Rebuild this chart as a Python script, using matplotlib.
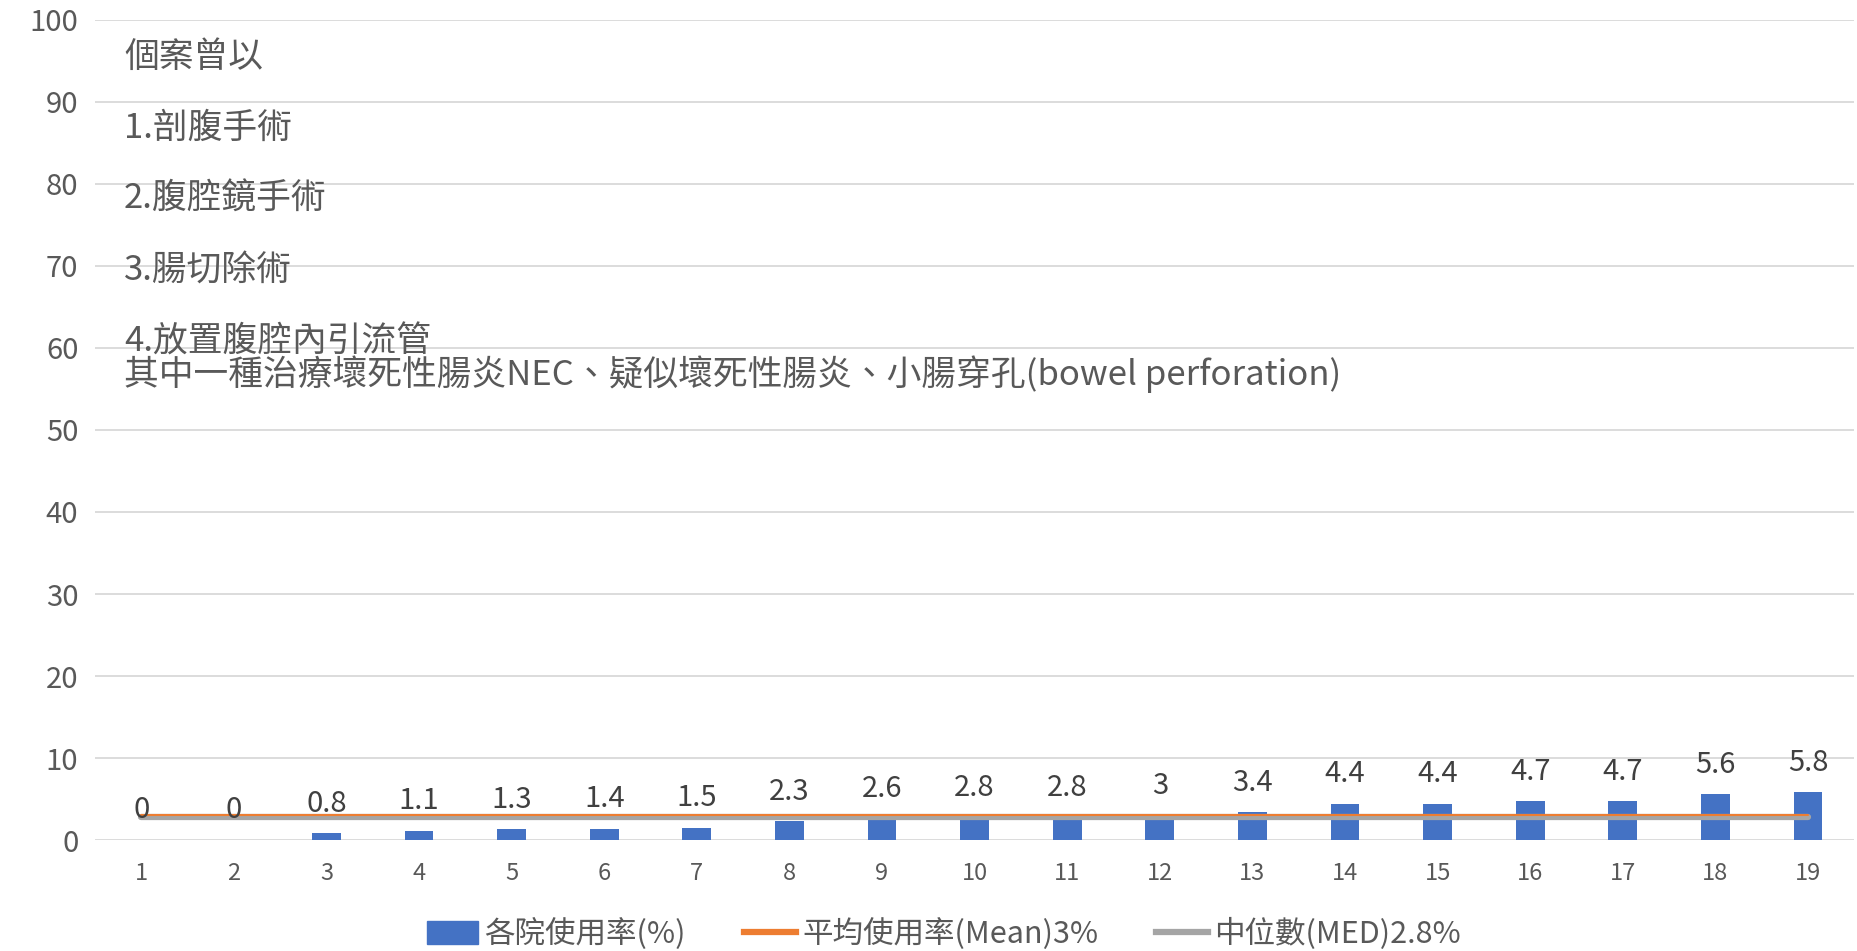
import matplotlib
matplotlib.use("Agg")
import matplotlib.pyplot as plt
from matplotlib.patches import Patch
from matplotlib.lines import Line2D

plt.rcParams['font.family'] = ['Noto Sans CJK TC', 'DejaVu Sans']

hospitals = list(range(1, 20))
rates = [0, 0, 0.8, 1.1, 1.3, 1.4, 1.5, 2.3, 2.6, 2.8, 2.8, 3, 3.4, 4.4, 4.4, 4.7, 4.7, 5.6, 5.8]
mean_rate = 3.0
median_rate = 2.8

note_lines = ["個案曾以", "1.剖腹手術", "2.腹腔鏡手術", "3.腸切除術", "4.放置腹腔內引流管"]
note_last = "其中一種治療壞死性腸炎NEC、疑似壞死性腸炎、小腸穿孔(bowel perforation)"

label_bar = "各院使用率(%)"
label_mean = "平均使用率(Mean)3%"
label_med = "中位數(MED)2.8%"

txt = '#595959'
fig = plt.figure(figsize=(18.58, 9.51), dpi=100)
ax = fig.add_axes([0.0511, 0.1167, 0.9469, 0.8623])

ax.bar(hospitals, rates, width=0.31, color='#4472C4', zorder=2)
ax.plot(hospitals, [median_rate] * len(hospitals), color='#A5A5A5', lw=4.5, zorder=3,
        solid_capstyle='round')
ax.plot(hospitals, [mean_rate] * len(hospitals), color='#ED7D31', lw=1.5, zorder=4,
        solid_capstyle='round')

for x, v in zip(hospitals, rates):
    ax.text(x, v + 3.6, f"{v:g}", ha='center', va='center', fontsize=21, color='#404040', zorder=5)

ax.set_xlim(0.5, 19.5)
ax.set_ylim(0, 100)
ax.set_yticks(range(0, 101, 10))
ax.set_xticks(hospitals)
ax.yaxis.grid(True, color='#D9D9D9', lw=1.3, zorder=0)
ax.set_axisbelow(True)
for s in ax.spines.values():
    s.set_visible(False)
ax.tick_params(axis='both', length=0, colors=txt)
ax.tick_params(axis='y', labelsize=21, pad=12)
ax.tick_params(axis='x', labelsize=17, pad=16)

y0 = 0.9395
for i, line in enumerate(note_lines):
    fig.text(0.0667, y0 - i * 0.0747, line, fontsize=25, color=txt, va='center')
fig.text(0.0667, 1 - 374 / 951, note_last, fontsize=25, color=txt, va='center')

handles = [Patch(color='#4472C4'),
           Line2D([0], [0], color='#ED7D31', lw=4.5),
           Line2D([0], [0], color='#A5A5A5', lw=4.5)]
fig.legend(handles, [label_bar, label_mean, label_med], loc='center', ncol=3,
           bbox_to_anchor=(0.508, 0.018), frameon=False, fontsize=22, labelcolor=txt,
           handlelength=1.7, handletextpad=0.2, columnspacing=1.9, handleheight=0.8)

fig.savefig('out.png', dpi=100)
